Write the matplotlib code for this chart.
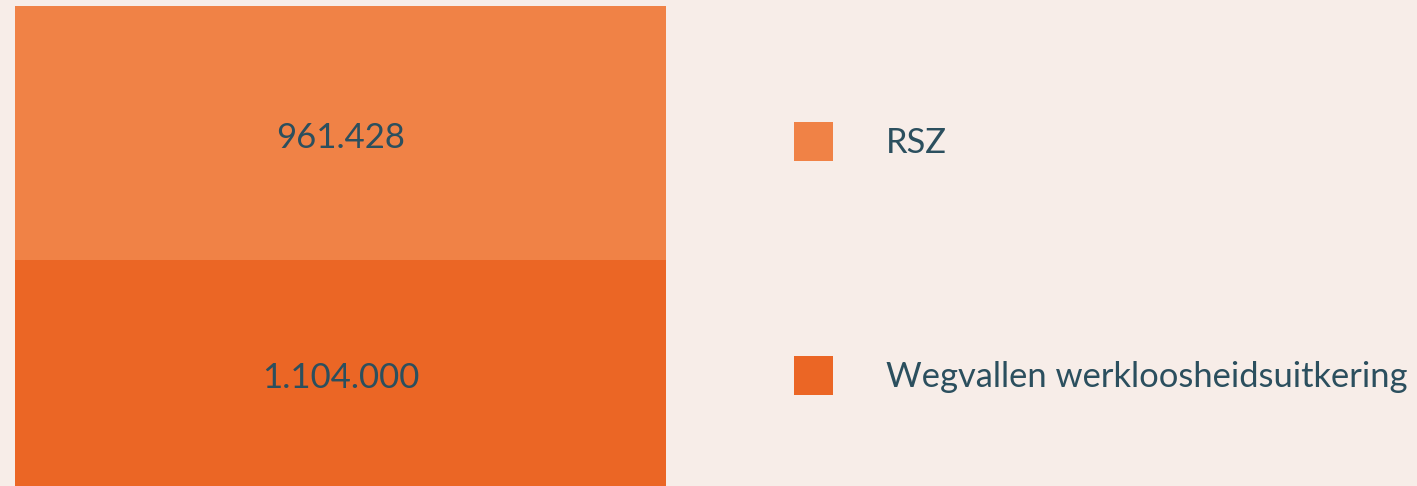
import matplotlib
matplotlib.use("Agg")
import matplotlib.pyplot as plt

categories = ["Wegvallen werkloosheidsuitkering", "RSZ"]
values = [1104000, 961428]
colors = ["#EB6625", "#F08246"]
bg = "#F7EDE8"
txt = "#2B4F5E"

plt.rcParams['font.family'] = ['Lato', 'DejaVu Sans']

W, H = 1417, 486
fig = plt.figure(figsize=(W / 100, H / 100), dpi=100, facecolor=bg)
ax = fig.add_axes([15 / W, 0, (666 - 15) / W, 1])
ax.set_facecolor(bg)

ylo, yhi = 248600, 2088000
bottom = 0
handles = []
for cat, v, c in zip(categories, values, colors):
    b = ax.bar(0, v, width=1, bottom=bottom, color=c, label=cat, linewidth=0)
    handles.append(b)
    vis_lo = max(bottom, ylo)
    ax.annotate(f"{v:,}".replace(",", "."), (0, (vis_lo + bottom + v) / 2),
                xytext=(0, -3.5), textcoords="offset points",
                ha="center", va="center", color=txt, fontsize=25)
    bottom += v

ax.set_xlim(-0.5, 0.5)
ax.set_ylim(ylo, yhi)
ax.axis("off")

fs = 24.8
fpx = fs * 100 / 72
hh = (39 / fpx - 0.245) / 0.65
leg = fig.legend(handles[::-1], categories[::-1], loc="upper left",
                 bbox_to_anchor=(794 / W, 1 - 122 / H), frameon=False,
                 fontsize=fs, handlelength=39 / fpx, handleheight=hh,
                 handletextpad=(886 - 833) / fpx, labelspacing=(234 - 39) / fpx,
                 borderpad=0, borderaxespad=0)
for t in leg.get_texts():
    t.set_color(txt)

fig.savefig("out.png", dpi=100, facecolor=bg)
